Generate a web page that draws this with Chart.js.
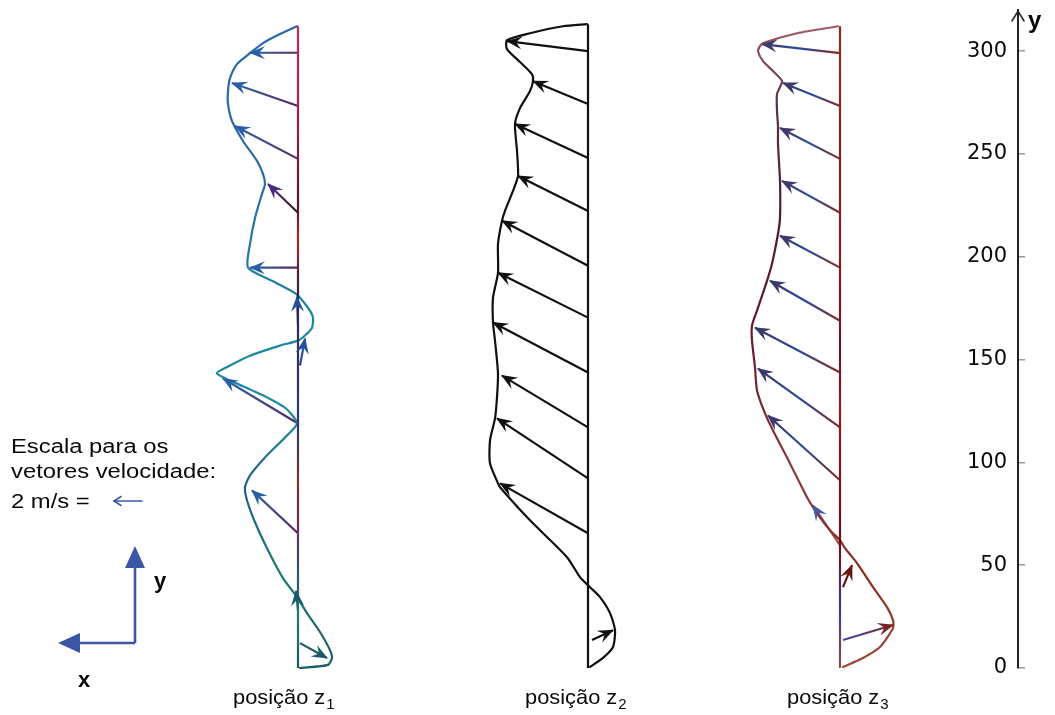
<!DOCTYPE html>
<html lang="pt">
<head>
<meta charset="utf-8">
<title>Perfis de velocidade</title>
<script src="https://cdn.jsdelivr.net/npm/chart.js@4.4.1/dist/chart.umd.min.js"></script>
<style>
html,body{margin:0;padding:0;background:#fff;overflow:hidden}
#wrap{position:relative;width:1055px;height:715px}
</style>
</head>
<body>
<div id="wrap"><canvas id="chart" width="1055" height="715"></canvas></div>
<script>
// ================= DATA =================
// y values in the units of the right-hand axis; dx = horizontal offset of a point from its profile's baseline
const yTicks = [0, 50, 100, 150, 200, 250, 300];
const positionNames = ['posição z', 'posição z', 'posição z'];
const positionSubs = ['1', '2', '3'];
const scaleText = ['Escala para os', 'vetores velocidade:', '2 m/s ='];

// profile curves: [dx, y]
const z1Curve = [[-1,312.1],[-18,308.3],[-35,303.9],[-48,299.0],[-61,293.7],[-68,286.9],[-70,280.6],[-70,274.3],[-66,266.0],[-55,256.3],[-41,246.6],[-35,240.3],[-33,235.4],[-36,230.6],[-43,218.9],[-48,206.3],[-50,194.7],[-26,188.3],[-2,182.0],[10,175.2],[15,170.4],[14,165.5],[7,161.7],[0,159.2],[-18,156.8],[-48,151.9],[-68,147.1],[-81,143.2],[-48,135.5],[-31,131.6],[-12,126.2],[-1,118.9],[-13,112.1],[-33,102.4],[-48,93.7],[-53,87.9],[-51,81.6],[-43,70.9],[-30,57.3],[-15,43.7],[-1,34.5],[9,26.7],[22,17.5],[32,8.7],[34,4.9],[30,1.5],[2,0]];
const z2Curve = [[-1,313.1],[-25,312.1],[-58,308.7],[-81,305.3],[-81,301.0],[-68,294.7],[-56,288.8],[-55,285.4],[-58,280.6],[-68,272.3],[-73,264.6],[-71,251.5],[-70,239.3],[-75,232.0],[-83,222.3],[-86,217.5],[-90,206.3],[-90,192.2],[-95,180.1],[-95,168.0],[-93,159.2],[-90,143.2],[-91,131.6],[-93,121.4],[-98,110.7],[-98,99.5],[-90,89.8],[-88,87.9],[-58,71.8],[-21,53.9],[-8,44.2],[2,39.3],[12,34.5],[22,26.7],[27,18.4],[25,10.2],[15,4.9],[2,0.5]];
const z3Curve = [[-2,312.1],[-43,308.7],[-77,303.9],[-80,302.4],[-82,300.0],[-77,295.1],[-67,290.3],[-58,285.4],[-63,279.1],[-63,270.9],[-62,263.6],[-62,254.9],[-60,236.9],[-60,218.9],[-62,211.2],[-68,196.6],[-73,188.3],[-83,173.8],[-88,166.5],[-88,159.2],[-85,146.1],[-83,135.0],[-75,123.8],[-67,115.5],[-50,99.5],[-33,83.0],[-23,75.2],[-10,67.0],[0,62.1],[5,58.3],[17,51.0],[33,39.3],[47,29.6],[53,23.3],[53,19.4],[40,10.2],[23,4.9],[3,0.5]];

// velocity vectors: [baseDx, baseY, tipDx, tipY]
const z1Arrows = [[0,299.2,-48,299.2],[0,273.3,-66,284.5],[0,247.6,-63,263.6],[0,221.4,-30,235.4],[0,194.7,-48,194.7],[0,166.5,-1,180.6],[2,147.1,7,160.2],[0,118.9,-75,140.8],[0,65.5,-46,86.4],[0,28.0,-2,37.5],[2,12.1,29,4.9]];
const z2Arrows = [[0,300.0,-81,304.9],[0,274.3,-55,285.4],[0,248.0,-73,264.6],[0,222.3,-70,239.3],[0,195.6,-86,217.5],[0,170.4,-90,192.2],[0,143.7,-95,168.0],[0,117.0,-86,142.2],[0,92.2,-91,121.4],[0,65.5,-88,89.8],[4,13.6,25,18.4]];
const z3Arrows = [[0,299.0,-78,303.4],[0,273.3,-57,284.5],[0,247.6,-60,262.6],[0,221.4,-58,236.9],[0,194.7,-60,210.2],[0,168.9,-70,188.3],[0,143.7,-85,165.5],[0,117.0,-82,145.6],[0,91.3,-72,122.8],[0,59.7,-27,79.1],[3,39.3,12,50.0],[3,13.6,53,20.9]];

// ================= LAYOUT / STYLE =================
const LAYOUT = {
  baseX: [298, 588, 840],          // x of each profile baseline (in x-scale units = px)
  labelX: [233, 525, 787],
  labelBaseline: 704,
  xMax: 1018,
  yMax: 320
};
const FONT_SANS = '"Liberation Sans", Arial, Helvetica, sans-serif';

function vGrad(stops) {
  return (c) => {
    const ch = c.chart;
    if (!ch.chartArea) return stops[0][1];
    const ys = ch.scales.y;
    const g = ch.ctx.createLinearGradient(0, ys.getPixelForValue(312), 0, ys.getPixelForValue(0));
    stops.forEach(([o, col]) => g.addColorStop(o, col));
    return g;
  };
}
function segGrad(x0, y0, x1, y1, stops) {
  return (c) => {
    const ch = c.chart;
    if (!ch.chartArea) return stops[stops.length - 1][1];
    const xs = ch.scales.x, ys = ch.scales.y;
    const g = ch.ctx.createLinearGradient(xs.getPixelForValue(x0), ys.getPixelForValue(y0), xs.getPixelForValue(x1), ys.getPixelForValue(y1));
    stops.forEach(([o, col]) => g.addColorStop(o, col));
    return g;
  };
}

const PROFILE_STYLE = [
  {
    curve: vGrad([[0,'#2a66a8'],[0.25,'#2a6ea2'],[0.45,'#1e86a0'],[0.6,'#1a8c9c'],[0.72,'#1f5f86'],[0.85,'#1a7a78'],[1,'#1a5e66']]),
    base: vGrad([[0,'#c22c55'],[0.15,'#9a2050'],[0.28,'#4a1830'],[0.33,'#b02a22'],[0.4,'#3a2048'],[0.6,'#2a3a70'],[0.71,'#6a3a2a'],[0.78,'#6a2a5a'],[0.86,'#2a5a70'],[0.92,'#1a7a70'],[1,'#1a5a60']]),
    arrow: (i) => {
      if (i >= 9) return { shaft: ['#1a5a68', '#1a5a68'], head: '#1a5a6a' };
      if (i === 3) return { shaft: ['#3a1a22', '#4a2a78'], head: '#4a2a80' };
      if (i === 5 || i === 6) return { shaft: ['#2a4a90', '#2a5aa8'], head: '#2450a0' };
      return { shaft: ['#5a2560', '#2a68a8'], head: '#2a5fa5' };
    }
  },
  {
    curve: '#101010',
    base: '#101010',
    arrow: () => ({ shaft: ['#101010', '#101010'], head: '#101010' })
  },
  {
    curve: vGrad([[0,'#a45a60'],[0.12,'#5a3050'],[0.3,'#4a1a30'],[0.5,'#6a1a2a'],[0.7,'#8a3a40'],[0.85,'#8a2a1a'],[1,'#9a4a3a']]),
    base: vGrad([[0,'#8a2a1a'],[0.4,'#8a1a1a'],[0.5,'#5a1a40'],[0.6,'#9a1a1a'],[0.8,'#6a1212'],[0.9,'#3a3a80'],[1,'#8a4a4a']]),
    arrow: (i) => {
      if (i === 9) return { shaft: ['#9a4a4a', '#5a6aa8'], head: '#4a5aa2' };
      if (i === 10) return { shaft: ['#6a1212', '#6a1212'], head: '#6a1414' };
      if (i === 11) return { shaft: ['#4a4a90', '#6a2a40'], head: '#7a2222' };
      return { shaft: ['#8a2a22', '#2a4c9a', '#3a3468'], head: '#3c3a68' };
    }
  }
];

// ================= DATASETS =================
const curves = [z1Curve, z2Curve, z3Curve];
const arrowSets = [z1Arrows, z2Arrows, z3Arrows];
const datasets = [];

curves.forEach((curve, p) => {
  const bx = LAYOUT.baseX[p];
  const st = PROFILE_STYLE[p];
  // baseline (velocity = 0)
  datasets.push({
    data: [{ x: bx, y: curve[0][1] }, { x: bx, y: 0 }],
    borderColor: st.base, borderWidth: 2.2, showLine: true, pointRadius: 0, clip: false, tension: 0
  });
  // velocity profile envelope
  datasets.push({
    data: curve.map(([dx, y]) => ({ x: bx + dx, y })),
    borderColor: st.curve, borderWidth: 2.2, showLine: true, pointRadius: 0, clip: false,
    tension: 0.22, borderJoinStyle: 'round', borderCapStyle: 'round'
  });
  // vectors
  arrowSets[p].forEach(([bdx, by, tdx, ty], i) => {
    const a = st.arrow(i);
    const stops = a.shaft.map((c, k) => [k / (a.shaft.length - 1), c]);
    datasets.push({
      data: [{ x: bx + bdx, y: by }, { x: bx + tdx, y: ty }],
      borderColor: segGrad(bx + bdx, by, bx + tdx, ty, stops),
      borderWidth: 2.2, showLine: true, pointRadius: 0, clip: false, tension: 0,
      arrowHead: { color: a.head, len: 15, w: 6.5 }
    });
  });
});

// ================= PLUGINS =================
const arrowHeads = {
  id: 'arrowHeads',
  afterDatasetsDraw(chart) {
    const ctx = chart.ctx;
    chart.data.datasets.forEach((ds, i) => {
      if (!ds.arrowHead) return;
      const pts = chart.getDatasetMeta(i).data;
      const a = pts[0], b = pts[pts.length - 1];
      const ang = Math.atan2(b.y - a.y, b.x - a.x);
      const { len, w, color } = ds.arrowHead;
      ctx.save();
      ctx.translate(b.x, b.y);
      ctx.rotate(ang);
      ctx.beginPath();
      ctx.moveTo(1, 0);
      ctx.lineTo(-len, -w);
      ctx.lineTo(-len * 0.6, 0);
      ctx.lineTo(-len, w);
      ctx.closePath();
      ctx.fillStyle = color;
      ctx.fill();
      ctx.restore();
    });
  }
};

function stretched(ctx, txt, x, y, sx) {
  ctx.save(); ctx.translate(x, y); ctx.scale(sx, 1); ctx.fillText(txt, 0, 0); ctx.restore();
}

const decorations = {
  id: 'decorations',
  afterDraw(chart) {
    const ctx = chart.ctx;
    const ys = chart.scales.y;
    const ax = ys.left, top = ys.top;
    ctx.save();
    // arrow tip of the y axis
    ctx.strokeStyle = '#2a2a2a'; ctx.lineWidth = 1.6; ctx.lineCap = 'round';
    ctx.beginPath();
    ctx.moveTo(ax - 6, top + 11); ctx.lineTo(ax, top + 1); ctx.lineTo(ax + 6, top + 11);
    ctx.stroke();
    // axis name
    ctx.fillStyle = '#0a0a0a';
    ctx.font = 'bold 24px ' + FONT_SANS;
    ctx.textBaseline = 'alphabetic'; ctx.textAlign = 'left';
    ctx.fillText('y', ax + 10, 28);

    // position labels
    positionNames.forEach((name, p) => {
      ctx.font = '21px ' + FONT_SANS;
      const x = LAYOUT.labelX[p];
      stretched(ctx, name, x, LAYOUT.labelBaseline, 1.04);
      const w = ctx.measureText(name).width * 1.04;
      ctx.font = '15px ' + FONT_SANS;
      ctx.fillText(positionSubs[p], x + w + 1, LAYOUT.labelBaseline + 5);
    });

    // velocity scale legend
    ctx.font = '20px ' + FONT_SANS;
    stretched(ctx, scaleText[0], 11, 453, 1.19);
    stretched(ctx, scaleText[1], 11, 478, 1.19);
    stretched(ctx, scaleText[2], 11, 508, 1.19);
    ctx.strokeStyle = '#3a5aa8'; ctx.lineWidth = 1.6;
    ctx.beginPath(); ctx.moveTo(142, 501); ctx.lineTo(114, 501); ctx.stroke();
    ctx.beginPath(); ctx.moveTo(121, 496.5); ctx.lineTo(114, 501); ctx.lineTo(121, 505.5); ctx.stroke();

    // x / y orientation sketch
    const blue = '#3a56a4';
    ctx.strokeStyle = blue; ctx.fillStyle = blue; ctx.lineWidth = 2.6; ctx.lineCap = 'butt';
    ctx.beginPath(); ctx.moveTo(135, 643); ctx.lineTo(135, 565); ctx.stroke();
    ctx.beginPath(); ctx.moveTo(135, 643); ctx.lineTo(76, 643); ctx.stroke();
    ctx.beginPath(); ctx.moveTo(135, 546); ctx.lineTo(145, 568); ctx.lineTo(125, 568); ctx.closePath(); ctx.fill();
    ctx.beginPath(); ctx.moveTo(58, 643); ctx.lineTo(80, 633); ctx.lineTo(80, 653); ctx.closePath(); ctx.fill();
    ctx.fillStyle = '#0a0a0a';
    ctx.font = 'bold 22px ' + FONT_SANS;
    ctx.fillText('y', 154, 588);
    ctx.fillText('x', 78, 687);
    ctx.restore();
  }
};

// ================= CHART =================
new Chart(document.getElementById('chart'), {
  type: 'scatter',
  data: { datasets },
  options: {
    responsive: false,
    animation: false,
    events: [],
    layout: { padding: { left: 0, right: 0, top: 10, bottom: 47 } },
    plugins: { legend: { display: false }, tooltip: { enabled: false } },
    scales: {
      x: { type: 'linear', display: false, min: 0, max: LAYOUT.xMax },
      y: {
        type: 'linear', position: 'right', min: 0, max: LAYOUT.yMax,
        afterBuildTicks: (s) => { s.ticks = yTicks.map(v => ({ value: v })); },
        afterFit: (s) => { s.width = 37; },
        border: { display: true, color: '#222', width: 2 },
        grid: { drawOnChartArea: false, drawTicks: true, tickLength: 7, color: '#9a9a9a', lineWidth: 1.5 },
        ticks: { mirror: true, padding: -11, crossAlign: 'near', color: '#0a0a0a',
                 font: { family: '"DejaVu Sans", sans-serif', size: 21 } }
      }
    }
  },
  plugins: [arrowHeads, decorations]
});
</script>
</body>
</html>
